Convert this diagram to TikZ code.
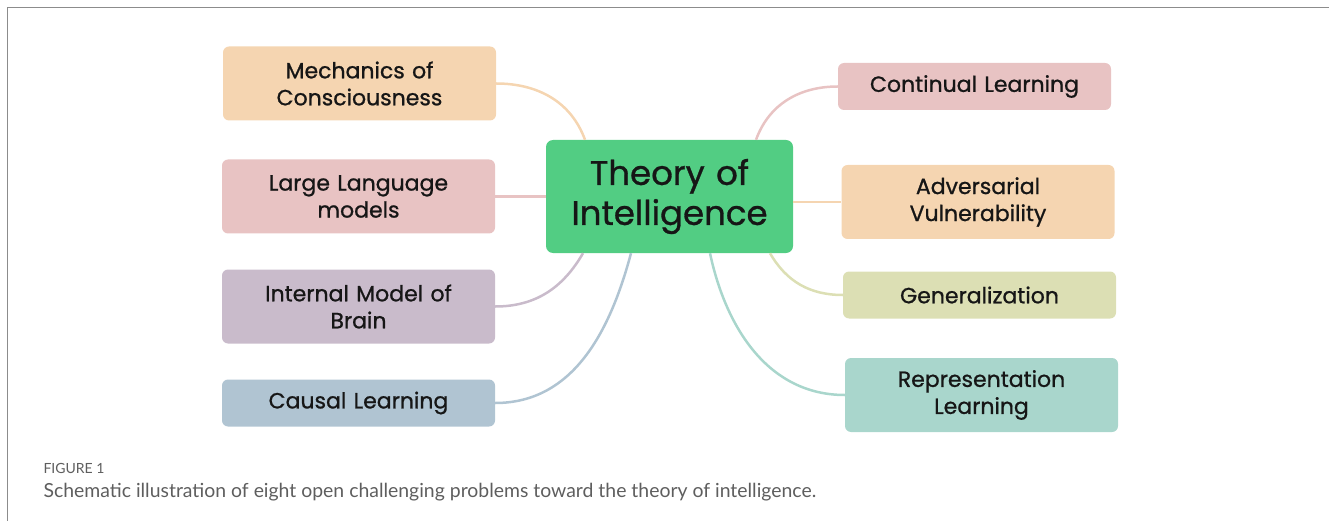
\documentclass[tikz,border=0pt]{standalone}
\usepackage{fontspec}
\setmainfont{Poppins}[FakeBold=0.9]
\newfontfamily\capfont{Lato}
\usepackage{tikz}
\usetikzlibrary{positioning}
\definecolor{peach}{HTML}{F5D5B1}
\definecolor{pink}{HTML}{E8C3C3}
\definecolor{mauve}{HTML}{C9BBCB}
\definecolor{steel}{HTML}{B0C4D2}
\definecolor{olive}{HTML}{DCDFB4}
\definecolor{teal}{HTML}{A9D6CC}
\definecolor{toigreen}{HTML}{52CD83}
\definecolor{ink}{HTML}{161616}
\definecolor{capgray}{HTML}{5E5E5E}
\definecolor{framegray}{HTML}{8C8C8C}
\tikzstyle{link} = [draw, line width=2.5pt]
\tikzstyle{leaf} = [rectangle, rounded corners=6pt, text=ink, text width=250pt, minimum width=273pt, minimum height=74pt, text centered, font=\fontsize{22}{27}\selectfont]
\tikzstyle{leafone} = [leaf, minimum height=47pt]
\tikzstyle{root} = [rectangle, rounded corners=7pt, fill=toigreen, text=ink, text width=230pt, minimum width=247pt, minimum height=113pt, text centered, font=\fontsize{34}{40}\selectfont]

\begin{document}
\begin{tikzpicture}
	\useasboundingbox (0,0) rectangle (1329pt,-521pt);
	\draw [framegray, line width=1.5pt] (1329pt,-7.5pt) -- (7.5pt,-7.5pt) -- (7.5pt,-521pt);
	
	\node [root] (toi) at (669.5pt,-196.5pt) {Theory of \\ Intelligence};
	
	% left column
	\node [leaf, fill=pink, left of=toi, node distance=311pt] (llm) {Large Language \\ models};
	\node [leaf, fill=peach, above of=llm, node distance=113pt, xshift=1pt] (mech) {Mechanics of \\ Consciousness};
	\node [leaf, fill=mauve, below of=llm, node distance=110pt] (imb) {Internal Model of \\ Brain};
	\node [leafone, fill=steel, below of=imb, node distance=96.5pt] (causal) {Causal Learning};
	
	% right column
	\node [leaf, fill=peach, right of=toi, node distance=308.5pt, yshift=-5.5pt] (adv) {Adversarial \\ Vulnerability};
	\node [leafone, fill=pink, above of=adv, node distance=115.5pt, xshift=-3.5pt] (cont) {Continual Learning};
	\node [leafone, fill=olive, below of=adv, node distance=93pt, xshift=1.5pt] (gen) {Generalization};
	\node [leaf, fill=teal, below of=gen, node distance=100pt, xshift=2pt] (rep) {Representation \\ Learning};
	
	\path [link, peach] (mech.east) to [out=0, in=110] ([xshift=-84.5pt]toi.north);
	\path [link, pink] (llm.east) to (toi.west);
	\path [link, mauve] (imb.east) to [out=0, in=-120] ([xshift=-86.5pt]toi.south);
	\path [link, steel] (causal.east) to [out=0, in=-105] ([xshift=-38.5pt]toi.south);
	\path [link, pink] ([xshift=86.5pt]toi.north) to [out=70, in=180] (cont.west);
	\path [link, peach] (adv.west -| toi.east) to (adv.west);
	\path [link, olive] ([xshift=100.5pt]toi.south) to [out=-60, in=180] (gen.west);
	\path [link, teal] ([xshift=40.5pt]toi.south) to [out=-78, in=180] (rep.west);
	
	\node [anchor=base west, text=capgray, font=\capfont\fontsize{14}{16}\selectfont] (figno) at (40pt,-473pt) {FIGURE 1};
	\node [anchor=base west, text=capgray, font=\capfont\fontsize{19.4}{22}\selectfont] (caption) at (40pt,-497pt) {Schematic illustration of eight open challenging problems toward the theory of intelligence.};
\end{tikzpicture}
\end{document}
